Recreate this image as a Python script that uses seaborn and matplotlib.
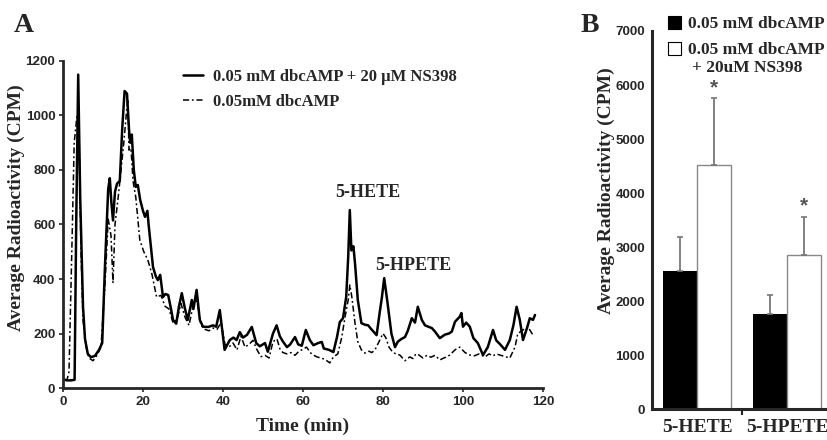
import numpy as np
import pandas as pd
import matplotlib
matplotlib.use("Agg")
import matplotlib.pyplot as plt
import seaborn as sns

# ---------------- Panel A data ----------------
t_ns = [0.5, 1, 2, 2.9, 3.3, 3.8, 4.3, 5, 5.5, 6.2, 7, 8, 9, 9.8, 10.5, 11.3, 11.7, 12.1,
        12.5, 13, 13.5, 14.2, 14.8, 15.4, 16, 16.5, 16.8, 17.2, 17.7, 18.2, 18.7, 19.3,
        20, 20.5, 21.1, 21.4, 21.8, 22.5, 23.2, 23.7, 24.3, 25, 25.6, 26.3, 27, 27.5,
        28.3, 29, 29.7, 30.5, 31.2, 32.2, 32.6, 33.4, 34.2, 35, 36.3, 37.5, 38.3, 39.2,
        40.4, 41.7, 42.6, 43.4, 44.2, 45, 46, 47.2, 48.3, 49.2, 50.5, 51.2, 52.5, 53.4,
        54.2, 55, 56, 56.8, 58, 58.8, 59.7, 60.7, 61.7, 62.6, 63.8, 64.7, 65.2, 66.5,
        67.6, 68.5, 69.2, 70, 70.8, 71.3, 71.7, 72.1, 72.6, 73, 73.7, 74.6, 75.5, 76.3,
        77, 78.4, 79.2, 79.7, 80.3, 81.1, 82.1, 83, 83.7, 84.6, 85.5, 86.2, 87.2, 88,
        88.7, 89.7, 90.5, 91.3, 92.2, 93, 94.2, 95.5, 96.5, 97.2, 98, 99.2, 99.6, 100,
        100.8, 101.7, 102.6, 103.7, 105, 106.2, 107.5, 108.3, 109.3, 110.5, 111.7, 112.6,
        113.4, 114.2, 115, 116, 116.7, 117.5, 118]
v_ns = [30, 28, 28, 30, 600, 1150, 700, 300, 180, 125, 113, 118, 140, 165, 450, 730, 770, 680,
        615, 720, 750, 760, 950, 1090, 1080, 950, 900, 930, 800, 738, 745, 690,
        650, 628, 650, 600, 543, 444, 410, 396, 415, 334, 345, 341, 290, 250,
        236, 300, 348, 290, 250, 323, 290, 360, 250, 225, 224, 230, 225, 286,
        140, 176, 185, 176, 205, 185, 195, 224, 165, 153, 165, 133, 200, 230,
        190, 170, 150, 160, 187, 160, 155, 213, 176, 157, 165, 169, 145, 140,
        132, 187, 242, 256, 334, 480, 653, 505, 520, 458, 323, 238, 232, 230,
        217, 194, 280, 330, 403, 316, 200, 150, 170, 180, 187, 210, 256, 240,
        298, 250, 230, 225, 220, 207, 183, 196, 200, 207, 243, 262, 275, 225,
        240, 225, 183, 165, 121, 150, 213, 175, 160, 140, 176, 230,
        298, 250, 176, 220, 256, 250, 268]

t_dbc = [0.5, 1, 1.5, 2.2, 2.8, 3.5, 4, 4.5, 5, 5.8, 6.5, 7.5, 8.5, 9.5, 10.5, 11.3, 12,
         12.5, 13, 13.8, 14.5, 15.2, 15.8, 16.2, 16.5, 17, 17.5, 18.2, 19.2, 20.2, 21.2,
         22.2, 23.4, 24.5, 25.5, 26.5, 27.5, 28.5, 29.5, 30.5, 31.5, 32.5, 33.5, 34.5,
         35.5, 36.5, 37.5, 38.5, 39.5, 40.5, 41.5, 42.5, 43.5, 44.5, 45.5, 46.5, 47.5,
         48.5, 49.5, 50.5, 51.5, 52.5, 53.5, 54.3, 55, 56, 57, 58, 59, 59.7, 60.9, 61.8,
         62.7, 63.5, 64.5, 65.5, 66.7, 67.6, 68.7, 69.7, 70.5, 71.3, 71.7, 72.2, 73,
         73.7, 74.6, 75.5, 76.5, 77.2, 78, 79.2, 80, 80.7, 81.5, 82.5, 83.3, 84.2, 85.5,
         86.7, 87.5, 88.2, 89, 90, 91, 92, 93, 94.2, 95.2, 96, 96.7, 98, 99.2, 100.5,
         101.7, 102.8, 104, 105.5, 106.5, 107.5, 108.3, 109.2, 110.5, 111.7, 113, 113.7,
         115, 116.2, 117.5]
v_dbc = [30, 30, 60, 500, 900, 1000, 950, 500, 250, 150, 110, 100, 120, 150, 380, 620, 560,
         385, 600, 700, 800, 900, 1000, 1060, 873, 880, 760, 700, 543, 500, 470,
         420, 334, 340, 300, 290, 240, 250, 310, 260, 230, 300, 320, 230,
         215, 210, 220, 215, 240, 160, 150, 165, 140, 190, 150, 160, 175,
         140, 115, 120, 110, 170, 180, 140, 130, 125, 130, 120, 135, 140, 150, 130,
         120, 114, 110, 105, 92, 114, 125, 187, 260, 323, 378, 335, 238,
         170, 140, 128, 135, 130, 140, 176, 200, 185, 150, 130, 125, 121, 100,
         114, 108, 125, 121, 110, 120, 113, 120, 103, 110, 115, 121, 140, 150, 130,
         121, 118, 125, 114, 125, 118, 125, 121, 115, 110, 150, 200,
         213, 225, 194]

label_ns = "0.05 mM dbcAMP + 20 \u03bcM NS398"
label_dbc = "0.05mM dbcAMP"

# ---------------- Panel B data ----------------
peaks = ["5-HETE", "5-HPETE"]
treat_b = ["0.05 mM dbcAMP", "0.05 mM dbcAMP "]
treat_b_extra = "+ 20uM NS398"
cpm_dbc = [2550, 1760]
err_dbc = [630, 360]
cpm_ns = [4520, 2860]
err_ns = [1230, 700]

# ---------------- styling ----------------
sns.set_style("ticks")
plt.rcParams['font.family'] = ['Liberation Serif', 'DejaVu Serif']
plt.rcParams['font.weight'] = 'bold'

SERIF = ['Liberation Serif', 'DejaVu Serif']
SANS = ['Liberation Sans', 'DejaVu Sans']

fig = plt.figure(figsize=(8.28, 4.4), dpi=100)
axA = fig.add_axes([63/828, 1-388/440, 480/828, 327/440])
axB = fig.add_axes([652/828, 1-409/440, 176/828, 378/440])

# ---- Panel A ----
dfA = pd.concat([
    pd.DataFrame({"time": t_ns, "cpm": v_ns, "series": label_ns}),
    pd.DataFrame({"time": t_dbc, "cpm": v_dbc, "series": label_dbc}),
])
sns.lineplot(data=dfA[dfA.series == label_ns], x="time", y="cpm", ax=axA,
             color="black", linewidth=1.8, label=label_ns, sort=False)
sns.lineplot(data=dfA[dfA.series == label_dbc], x="time", y="cpm", ax=axA,
             color="black", linewidth=1.1, label=label_dbc, sort=False)
axA.lines[1].set_dashes((4, 1.8, 1.2, 1.8))

axA.set_xlim(0, 120)
axA.set_ylim(0, 1200)
axA.set_xticks(np.arange(0, 121, 20))
axA.set_yticks(np.arange(0, 1201, 200))
for sp in ["top", "right"]:
    axA.spines[sp].set_visible(False)
for sp in ["left", "bottom"]:
    axA.spines[sp].set_linewidth(2.0)
axA.tick_params(axis="both", length=3, width=1.2, labelsize=9.6, pad=2.5)
for lab in axA.get_xticklabels() + axA.get_yticklabels():
    lab.set_family(SANS)
    lab.set_fontweight("bold")
axA.set_xlabel("Time (min)", fontsize=14, fontweight="bold", family=SERIF, labelpad=7)
axA.set_ylabel("Average Radioactivity (CPM)", fontsize=14, fontweight="bold",
               family=SERIF)
axA.yaxis.set_label_coords(-0.08, 0.553)
leg = axA.legend(loc="upper left", bbox_to_anchor=(0.25, 0.975), frameon=False,
                 handlelength=1.2, handletextpad=0.6, labelspacing=0.5,
                 borderaxespad=0, borderpad=0,
                 prop={"family": SERIF, "weight": "bold", "size": 12})
leg.get_lines()[1].set_dashes((4, 1.8, 1.2, 1.8))
axA.text(76.2, 719, "5-HETE", ha="center", va="center", fontsize=13,
         fontweight="bold", family=SERIF)
axA.text(87.5, 448, "5-HPETE", ha="center", va="center", fontsize=13,
         fontweight="bold", family=SERIF)
fig.text(24/828, 1-25/440, "A", fontsize=20, fontweight="bold", family=SERIF,
         ha="center", va="center")

# ---- Panel B ----
dfB = pd.DataFrame({
    "peak": peaks * 2,
    "cpm": cpm_dbc + cpm_ns,
    "err": err_dbc + err_ns,
    "treatment": [treat_b[0]] * 2 + [treat_b[1]] * 2,
})
sns.barplot(data=dfB, x="peak", y="cpm", hue="treatment", hue_order=treat_b,
            palette=["black", "white"], width=0.76, errorbar=None, ax=axB,
            saturation=1)
errs = [err_dbc, err_ns]
bar_conts = list(axB.containers)[:2]
for k, cont in enumerate(bar_conts):
    for j, bar in enumerate(list(cont)):
        if k == 0:
            bar.set_edgecolor("black")
            bar.set_linewidth(0)
        else:
            bar.set_edgecolor("#888888")
            bar.set_linewidth(1.0)
        xc = bar.get_x() + bar.get_width() / 2
        h = bar.get_height()
        axB.errorbar([xc], [h], yerr=[[0], [errs[k][j]]], fmt="none",
                     ecolor="#777777", elinewidth=1.3, capsize=2.5, capthick=1.2)
        if k == 1:
            axB.text(xc, h + errs[k][j] + 20, "*", ha="center", va="bottom",
                     fontsize=15, color="#555555", family=SANS)

axB.set_xlim(-0.5, 1.455)
axB.set_ylim(0, 7000)
axB.set_yticks(np.arange(0, 7001, 1000))
axB.set_xticks([0, 1])
axB.set_xticklabels(peaks)
axB.set_xticks([0.5], minor=True)
axB.tick_params(axis="x", which="major", length=0, labelsize=14, pad=7)
axB.tick_params(axis="x", which="minor", length=4, width=1.5, direction="out")
axB.tick_params(axis="y", length=0, labelsize=9.5, pad=5)
for lab in axB.get_xticklabels():
    lab.set_family(SERIF)
    lab.set_fontweight("bold")
for lab in axB.get_yticklabels():
    lab.set_family(SANS)
    lab.set_fontweight("bold")
for sp in ["top", "right"]:
    axB.spines[sp].set_visible(False)
for sp in ["left", "bottom"]:
    axB.spines[sp].set_linewidth(2.2)
axB.set_xlabel("")
axB.set_ylabel("Average Radioactivity (CPM)", fontsize=14, fontweight="bold",
               family=SERIF)
axB.yaxis.set_label_coords(-0.21, 0.579)
handles, labels = axB.get_legend_handles_labels()
for hnd in handles:
    hnd.set_edgecolor("black")
    hnd.set_linewidth(0.8)
legB = axB.legend(handles, labels, loc="upper left", bbox_to_anchor=(0.09, 1.04),
                  frameon=False, handlelength=0.75, handleheight=0.75,
                  handletextpad=0.4, labelspacing=0.55, borderaxespad=0, borderpad=0,
                  prop={"family": SERIF, "weight": "bold", "size": 12.5})
fig.text(692/828, 1-68/440, treat_b_extra, fontsize=12.5, fontweight="bold",
         family=SERIF, ha="left", va="center")
fig.text(590/828, 1-25/440, "B", fontsize=20, fontweight="bold", family=SERIF,
         ha="center", va="center")

fig.savefig("out.png", dpi=100)
